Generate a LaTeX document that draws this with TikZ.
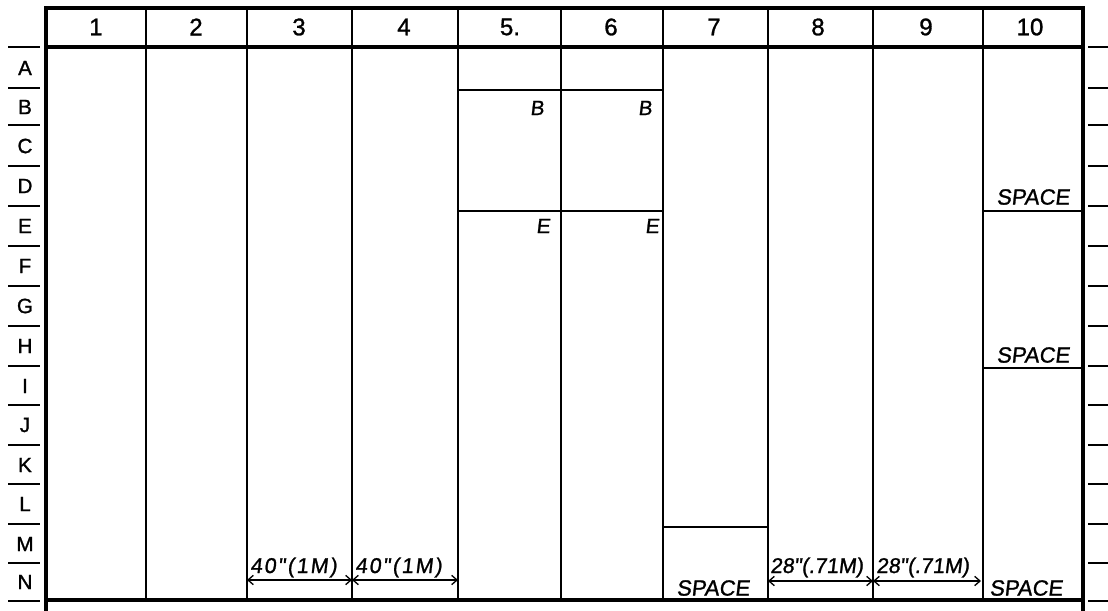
\documentclass[tikz,border=0pt]{standalone}
\usepackage{fontspec}
\setmainfont[FakeBold=1.2]{Liberation Sans}
\newfontfamily\slant[FakeSlant=0.12,FakeBold=1.2]{Liberation Sans}
\newfontfamily\slantsp[FakeSlant=0.12,FakeBold=1.2,LetterSpace=9]{Liberation Sans}
\usetikzlibrary{arrows.meta}
\begin{document}
\begin{tikzpicture}[x=0.75pt,y=-0.75pt,
  frameline/.style={line width=2.6pt},
  colline/.style={line width=1.9pt},
  innerline/.style={line width=1.3pt},
  tickline/.style={line width=1.4pt},
  hdr/.style={font=\fontsize{18}{18}\selectfont, inner sep=0pt},
  rowlab/.style={font=\fontsize{15.5}{15.5}\selectfont, inner sep=0pt},
  cornerlab/.style={font=\slant\fontsize{15.5}{15.5}\selectfont, inner sep=0pt},
  spacelab/.style={font=\slant\fontsize{16.5}{16.5}\selectfont, inner sep=0pt},
  dimlab/.style={font=\slant\fontsize{16}{16}\selectfont, inner sep=0pt, anchor=base west},
  dimlabsp/.style={font=\slantsp\fontsize{16}{16}\selectfont, inner sep=0pt, anchor=base west},
  dimarrow/.style={line width=1pt, {Straight Barb[length=4pt,width=7pt]}-{Straight Barb[length=4pt,width=7pt]}}
]
\useasboundingbox (0,0) rectangle (1108,611);
% outer frame
\draw[frameline] (46,611) -- (46,8) -- (1083,8) -- (1083,611);
\draw[frameline] (46,47) -- (1083,47);
\draw[frameline] (46,600) -- (1083,600);
% column dividers
\foreach \x in {146,247,352,458,561,663,768,873,983}
  \draw[colline] (\x,8) -- (\x,600);
% row ticks left and right
\foreach \y in {47,88,125,166,206,246,286,326,366,405,445,484,524,563,601} {
  \draw[tickline] (8,\y) -- (40,\y);
  \draw[tickline] (1088,\y) -- (1108,\y);
}
% header numbers
\node[hdr] (h1) at (96,27) {1};
\node[hdr] (h2) at (196,27) {2};
\node[hdr] (h3) at (299,27) {3};
\node[hdr] (h4) at (404,27) {4};
\node[hdr] (h5) at (510,27) {5.};
\node[hdr] (h6) at (611,27) {6};
\node[hdr] (h7) at (714,27) {7};
\node[hdr] (h8) at (818,27) {8};
\node[hdr] (h9) at (926,27) {9};
\node[hdr] (h10) at (1030,27) {10};
% row labels
\node[rowlab] (rA) at (25,68) {A};
\node[rowlab] (rB) at (25,107) {B};
\node[rowlab] (rC) at (25,146) {C};
\node[rowlab] (rD) at (25,186) {D};
\node[rowlab] (rE) at (25,226) {E};
\node[rowlab] (rF) at (25,266) {F};
\node[rowlab] (rG) at (25,306) {G};
\node[rowlab] (rH) at (25,346) {H};
\node[rowlab] (rI) at (25,386) {I};
\node[rowlab] (rJ) at (25,425) {J};
\node[rowlab] (rK) at (25,465) {K};
\node[rowlab] (rL) at (25,504) {L};
\node[rowlab] (rM) at (25,544) {M};
\node[rowlab] (rN) at (25,582) {N};
% columns 5 and 6 subdivisions
\draw[innerline] (458,90) -- (663,90);
\draw[innerline] (458,211) -- (663,211);
\node[cornerlab] (b5) at (537,108) {B};
\node[cornerlab] (b6) at (645,108) {B};
\node[cornerlab] (e5) at (543,226) {E};
\node[cornerlab] (e6) at (652,226) {E};
% column 10
\draw[innerline] (983,211) -- (1083,211);
\draw[innerline] (983,368) -- (1083,368);
\node[spacelab] (s10a) at (1033,197) {SPACE};
\node[spacelab] (s10b) at (1033,355) {SPACE};
\node[spacelab] (s10c) at (1026,588) {SPACE};
% column 7
\draw[innerline] (663,527) -- (768,527);
\node[spacelab] (s7) at (713,588) {SPACE};
% dimension arrows
\coordinate (d3a) at (247,580);
\coordinate (d3b) at (352,580);
\coordinate (d4b) at (458,580);
\coordinate (d8a) at (768,581);
\coordinate (d8b) at (873,581);
\coordinate (d9b) at (981,581);
\draw[dimarrow] (d3a) -- (d3b);
\draw[dimarrow] (d3b) -- (d4b);
\draw[dimarrow] (d8a) -- (d8b);
\draw[dimarrow] (d8b) -- (d9b);
\node[dimlabsp] (t3) at (250,573) {40"(1M)};
\node[dimlabsp] (t4) at (355,573) {40"(1M)};
\node[dimlab] (t8) at (770,573) {28"(.71M)};
\node[dimlab] (t9) at (876,573) {28"(.71M)};
\end{tikzpicture}
\end{document}
